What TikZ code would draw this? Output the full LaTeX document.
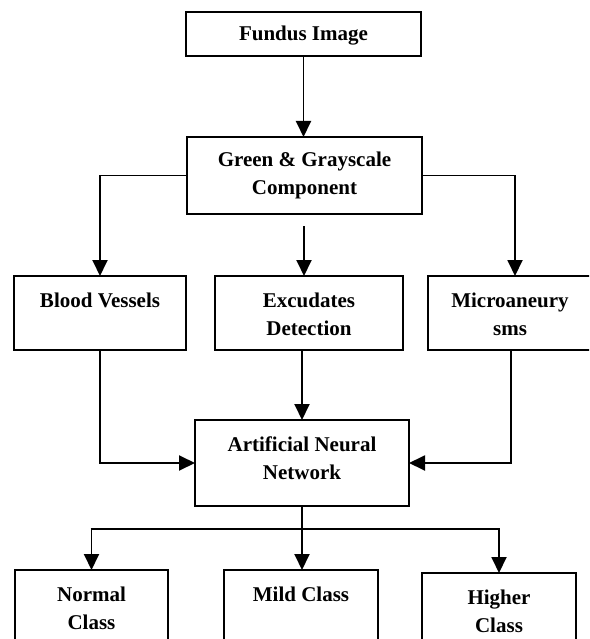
\documentclass[tikz,border=0pt]{standalone}
\usepackage{fontspec}
\setmainfont{Liberation Serif}
\usetikzlibrary{arrows.meta}
\begin{document}
\begin{tikzpicture}[x=1pt,y=-1pt,
 box/.style={draw, line width=1.9pt, inner sep=0pt, outer sep=0pt, anchor=north west},
 lbl/.style={font=\bfseries\fontsize{21}{28}\selectfont, align=center, inner sep=0pt, anchor=north},
 conn/.style={line width=1.9pt},
 arr/.style={conn, -{Triangle[width=15pt,length=16pt]}}]
\useasboundingbox (0,0) rectangle (589,639);
\clip (0,0) rectangle (589,639);
% boxes
\node[box, minimum width=235pt, minimum height=44pt] (fi) at (186,12) {};
\node[box, minimum width=235pt, minimum height=77pt] (gg) at (187,137) {};
\node[box, minimum width=172pt, minimum height=74pt] (bv) at (14,276) {};
\node[box, minimum width=188pt, minimum height=74pt] (ex) at (215,276) {};
\node[box, minimum width=168pt, minimum height=74pt] (mi) at (428,276) {};
\node[box, minimum width=214pt, minimum height=86pt] (ann) at (195,420) {};
\node[box, minimum width=153pt, minimum height=90pt] (nc) at (15,570) {};
\node[box, minimum width=154pt, minimum height=90pt] (mc) at (224,570) {};
\node[box, minimum width=154pt, minimum height=90pt] (hc) at (422,573) {};
% texts
\node[lbl, anchor=center] (fit) at ([yshift=-2pt]fi.center) {Fundus Image};
\node[lbl, anchor=center] (ggt) at (gg.center) {Green \& Grayscale\\Component};
\node[lbl] (bvt) at ([yshift=-17pt]bv.north) {Blood Vessels};
\node[lbl] (ext) at ([yshift=-17pt]ex.north) {Excudates\\Detection};
\coordinate (mtc) at (510,276);
\node[lbl] (mit) at ([yshift=-17pt]mtc) {Microaneury\\sms};
\node[lbl] (annt) at ([yshift=-17pt]ann.north) {Artificial Neural\\Network};
\node[lbl] (nct) at ([yshift=-17pt]nc.north) {Normal\\Class};
\node[lbl] (mct) at ([yshift=-17pt]mc.north) {Mild Class};
\node[lbl] (hct) at ([yshift=-17pt]hc.north) {Higher\\Class};
% connectors
\draw[arr] (fi.south) -- (fi.south |- gg.north);
\draw[arr] (gg.west) -| (bv.north);
\coordinate (mt) at (515,0);
\draw[arr] (gg.east) -| (mt |- mi.north);
\coordinate (c1) at (304,226);
\draw[arr] (c1) -- (c1 |- ex.north);
\draw[arr] (ann.north |- ex.south) -- (ann.north);
\draw[arr] (bv.south) |- (ann.west);
\coordinate (mb) at (511,0);
\draw[arr] (mb |- mi.south) |- (ann.east);
\draw[arr] (ann.south) -- (ann.south |- mc.north);
\coordinate (j) at (302,529);
\draw[conn] ([xshift=-0.95pt]nc.north |- j) -- ([xshift=0.95pt]hc.north |- j);
\draw[arr] (nc.north |- j) -- (nc.north);
\draw[arr] (hc.north |- j) -- (hc.north);
\end{tikzpicture}
\end{document}
